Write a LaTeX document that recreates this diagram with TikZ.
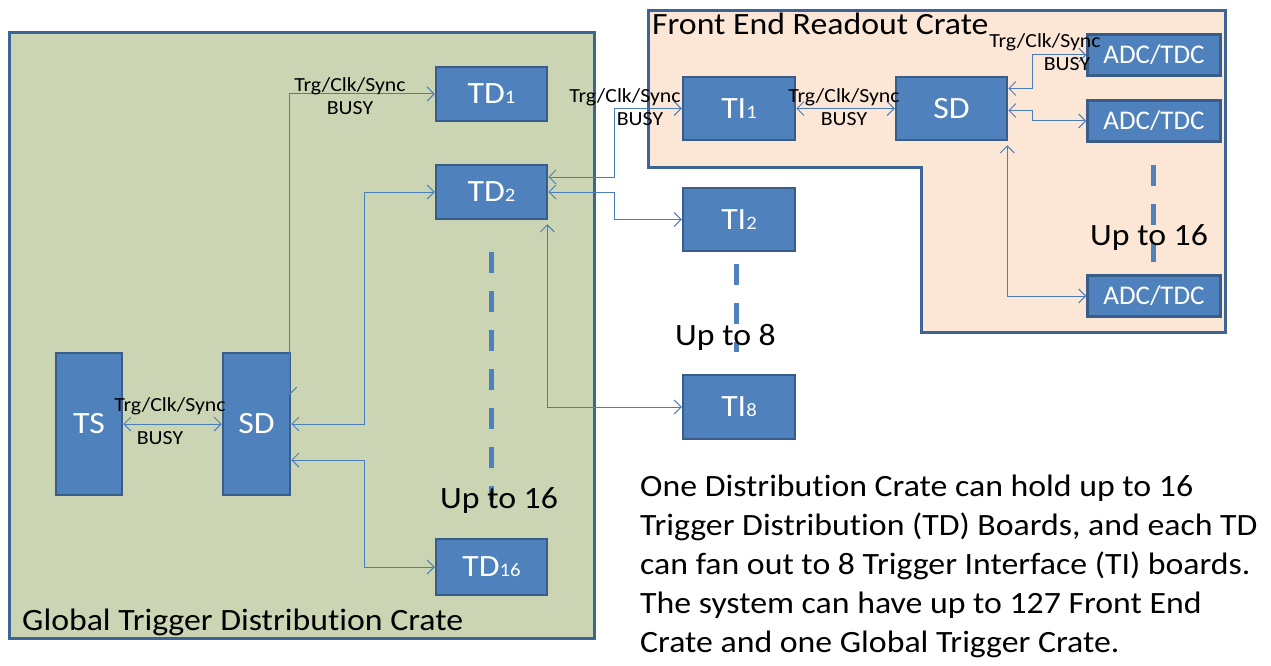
\documentclass[tikz,border=0pt]{standalone}
\usepackage{fontspec}
\setmainfont[FakeStretch=1.09, Ligatures=NoCommon]{Carlito}
\newfontfamily\plainfont[Ligatures=NoCommon]{Carlito}
\usetikzlibrary{arrows.meta}
\definecolor{boxfill}{HTML}{4F81BD}
\definecolor{boxedge}{HTML}{385D8A}
\definecolor{crateedge}{HTML}{3C6496}
\definecolor{gtfill}{HTML}{CBD5B3}
\definecolor{fefill}{HTML}{FCE6D6}
\definecolor{linkblue}{HTML}{4A7EBB}
\newcommand{\idx}[1]{{\fontsize{19}{19}\selectfont #1}}
\tikzset{
	board/.style={draw=boxedge, fill=boxfill, line width=2.5pt, text=white, inner sep=0pt, font=\fontsize{31}{31}\selectfont},
	adc/.style={board, minimum width=133pt, minimum height=41pt, font=\plainfont\fontsize{27}{27}\selectfont},
	crate/.style={draw=crateedge, line width=3pt},
	link/.style={draw=linkblue, line width=1pt, {Straight Barb[length=7pt,width=14pt]}-{Straight Barb[length=7pt,width=14pt]}},
	sig/.style={inner sep=0pt, font=\fontsize{20}{20}\selectfont},
	upto/.style={inner sep=0pt, anchor=base west, font=\fontsize{31}{31}\selectfont},
	more/.style={draw=boxfill, line width=5pt, dash pattern=on 21pt off 18pt}
}
\begin{document}
\begin{tikzpicture}[x=1pt, y=-1pt]
	\useasboundingbox (0,0) rectangle (1271,666);
	\draw[crate, fill=gtfill] (9,33) rectangle (594,638);
	\draw[crate, fill=fefill] (648,11) -- (1225,11) -- (1225,332) -- (921,332) -- (921,167) -- (648,167) -- cycle;
	\node[upto] (gtname) at (22,630) {Global Trigger Distribution Crate};
	\node[upto] (fename) at (652,35) {Front End Readout Crate};
	\draw[more] (491,252) -- (491,500);
	\draw[more] (736,264) -- (736,352);
	\draw[more] (1153,165) -- (1153,262);
	\node[board, minimum width=66pt, minimum height=142pt] (ts) at (89,424) {TS};
	\node[board, minimum width=67pt, minimum height=142pt] (sd) at (256.5,424) {SD};
	\node[board, minimum width=111pt, minimum height=54pt] (td1) at (491.5,94) {TD\idx{1}};
	\node[board, minimum width=111pt, minimum height=54pt] (td2) at (491.5,192) {TD\idx{2}};
	\node[board, minimum width=111pt, minimum height=56pt] (td16) at (491.5,567) {TD\idx{16}};
	\node[board, minimum width=112pt, minimum height=63pt] (ti1) at (739,108.5) {TI\idx{1}};
	\node[board, minimum width=112pt, minimum height=63pt] (ti2) at (739,219.5) {TI\idx{2}};
	\node[board, minimum width=112pt, minimum height=64pt] (ti8) at (739,407) {TI\idx{8}};
	\node[board, minimum width=111pt, minimum height=63pt] (fesd) at (951.5,108.5) {SD};
	\node[adc] (adc1) at (1154,55) {ADC/TDC};
	\node[adc] (adc2) at (1154,121) {ADC/TDC};
	\node[adc] (adc16) at (1154,296) {ADC/TDC};
	\node[upto] (gtupto) at (440,508) {Up to 16};
	\node[upto] (tiupto) at (675,345) {Up to 8};
	\node[upto] (adcupto) at (1090,245) {Up to 16};
	\draw[link] (ts.east) -- (sd.west);
	\draw[link] ([xshift=-1.5pt, yshift=-43pt]sd.north east) |- (td1.west);
	\draw[link] (sd.east) -- ++(73,0) |- (td2.west);
	\draw[link] ([yshift=-36pt]sd.east) -- ++(73,0) |- (td16.west);
	\draw[link] ([yshift=15pt]td2.east) -- ++(66,0) |- (ti1.west);
	\draw[link] (td2.east) -- ++(66,0) |- (ti2.west);
	\draw[link] ([xshift=-1pt, yshift=-4pt]td2.south east) |- (ti8.west);
	\draw[link] (ti1.east) -- (fesd.west);
	\draw[link] ([yshift=20pt]fesd.east) -- ++(24,0) |- (adc1.west);
	\draw[link] ([yshift=-2pt]fesd.east) -- ++(24,0) |- (adc2.west);
	\draw[link] ([xshift=-1pt, yshift=-4pt]fesd.south east) |- (adc16.west);
	\node[sig] (tstop) at (170,406) {Trg/Clk/Sync};
	\node[sig] (tsbot) at (160,438) {BUSY};
	\node[sig] (td1top) at (350,86) {Trg/Clk/Sync};
	\node[sig] (td1bot) at (350,108) {BUSY};
	\node[sig] (ti1top) at (625,97) {Trg/Clk/Sync};
	\node[sig] (ti1bot) at (640,119) {BUSY};
	\node[sig] (sdtop) at (844,97) {Trg/Clk/Sync};
	\node[sig] (sdbot) at (844,119) {BUSY};
	\node[sig] (adctop) at (1045,42) {Trg/Clk/Sync};
	\node[sig] (adcbot) at (1067,64) {BUSY};
	\node[anchor=base west, inner sep=0pt, align=left, font=\fontsize{31}{39}\selectfont] (note) at (640,652) {One Distribution Crate can hold up to 16\\Trigger Distribution (TD) Boards, and each TD\\can fan out to 8 Trigger Interface (TI) boards.\\The system can have up to 127 Front End\\Crate and one Global Trigger Crate.};
\end{tikzpicture}
\end{document}
